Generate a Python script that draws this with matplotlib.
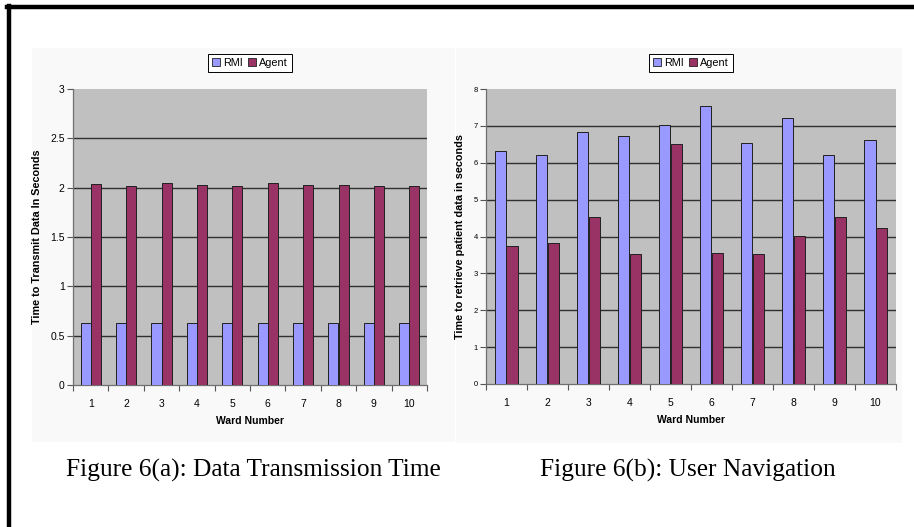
import matplotlib
matplotlib.use("Agg")
import matplotlib.pyplot as plt
from matplotlib.patches import Rectangle
from matplotlib.lines import Line2D
import numpy as np

wards = ["1", "2", "3", "4", "5", "6", "7", "8", "9", "10"]
rmi_a = [0.63, 0.63, 0.63, 0.63, 0.63, 0.63, 0.63, 0.63, 0.63, 0.63]
agent_a = [2.04, 2.02, 2.05, 2.03, 2.02, 2.05, 2.03, 2.03, 2.02, 2.02]
rmi_b = [6.33, 6.22, 6.83, 6.73, 7.03, 7.53, 6.53, 7.22, 6.22, 6.62]
agent_b = [3.73, 3.82, 4.53, 3.52, 6.52, 3.55, 3.52, 4.02, 4.52, 4.22]
series_names = ["RMI", "Agent"]
yticks_a = [0, 0.5, 1, 1.5, 2, 2.5, 3]
yticks_b = [0, 1, 2, 3, 4, 5, 6, 7, 8]

W, H = 914, 527
fig = plt.figure(figsize=(W / 100, H / 100), dpi=100)
fig.patch.set_facecolor("white")

NARROW = ["Liberation Sans Narrow", "Liberation Sans", "DejaVu Sans"]
SANS = ["Liberation Sans", "DejaVu Sans"]
SERIF = ["Liberation Serif", "DejaVu Serif"]

C_RMI = "#9999FF"
C_AGENT = "#993366"

def fx(x):
    return x / W

def fy(y):
    return 1 - y / H

# page frame lines (top and left)
fig.add_artist(Line2D([fx(7), fx(914)], [fy(7), fy(7)], color="black", lw=3.2))
fig.add_artist(Line2D([fx(9), fx(9)], [fy(5.5), fy(527)], color="black", lw=3.2))

def chart(area, plot, rmi, agent, yticks, ylabel, tick_fs, caption, cap_x):
    ax0, ay0, ax1, ay1 = area
    fig.add_artist(Rectangle((fx(ax0), fy(ay1)), fx(ax1 - ax0), (ay1 - ay0) / H,
                             facecolor="#f9f9f9", edgecolor="none", zorder=0))
    px0, py0, px1, py1 = plot
    ax = fig.add_axes([fx(px0), fy(py1), fx(px1 - px0), (py1 - py0) / H])
    ax.set_facecolor("#C0C0C0")
    n = len(wards)
    x = np.arange(n)
    w = 1 / 3.5
    ax.bar(x - w / 2, rmi, w, color=C_RMI, edgecolor="#202020", lw=0.7, label=series_names[0], zorder=3)
    ax.bar(x + w / 2, agent, w, color=C_AGENT, edgecolor="#202020", lw=0.7, label=series_names[1], zorder=3)
    ax.set_xlim(-0.5, n - 0.5)
    ax.set_ylim(yticks[0], yticks[-1])
    for t in yticks[1:-1]:
        ax.axhline(t, color="#303030", lw=1.0, zorder=1)
    ax.set_yticks(yticks)
    ax.set_yticklabels([("%g" % t) for t in yticks], fontfamily=NARROW, fontsize=tick_fs)
    ax.set_xticks(x)
    ax.set_xticklabels(wards, fontfamily=NARROW, fontsize=7.5)
    ax.set_xticks(np.arange(n + 1) - 0.5, minor=True)
    ax.tick_params(axis="x", which="major", length=0, pad=10)
    ax.tick_params(axis="x", which="minor", length=4, width=0.8, color="#555555", direction="out")
    ax.tick_params(axis="y", length=4, width=0.8, color="#555555", pad=2)
    for s in ["top", "right"]:
        ax.spines[s].set_visible(False)
    for s in ["left", "bottom"]:
        ax.spines[s].set_color("#707070")
        ax.spines[s].set_linewidth(0.9)
    ax.set_xlabel("Ward Number", fontfamily=NARROW, fontsize=7.5, fontweight="bold", labelpad=5)
    ax.set_ylabel(ylabel, fontfamily=SANS, fontsize=7.8, fontweight="bold", labelpad=6)
    leg = ax.legend(loc="lower center", bbox_to_anchor=(0.5, 1.04), ncol=2, frameon=True,
                    fancybox=False, edgecolor="black", framealpha=1, borderpad=0.35,
                    handlelength=0.7, handleheight=0.7, handletextpad=0.3, columnspacing=0.5,
                    prop={"family": NARROW, "size": 7.8})
    leg.get_frame().set_linewidth(0.7)
    for h in leg.legend_handles:
        h.set_edgecolor("#202020")
        h.set_linewidth(0.6)
    fig.text(fx(cap_x), fy(470), caption, ha="center", va="center",
             fontfamily=SERIF, fontsize=18.3)
    return ax

chart((32, 48, 455, 442), (73, 89, 427, 385), rmi_a, agent_a, yticks_a,
      "Time to Transmit Data In Seconds", 7.5, "Figure 6(a): Data Transmission Time", 253)
chart((456, 48, 902, 443), (486, 89, 896, 384), rmi_b, agent_b, yticks_b,
      "Time to retrieve patient data in seconds", 5.5, "Figure 6(b): User Navigation", 688)

fig.savefig("out.png", dpi=100, facecolor="white")
